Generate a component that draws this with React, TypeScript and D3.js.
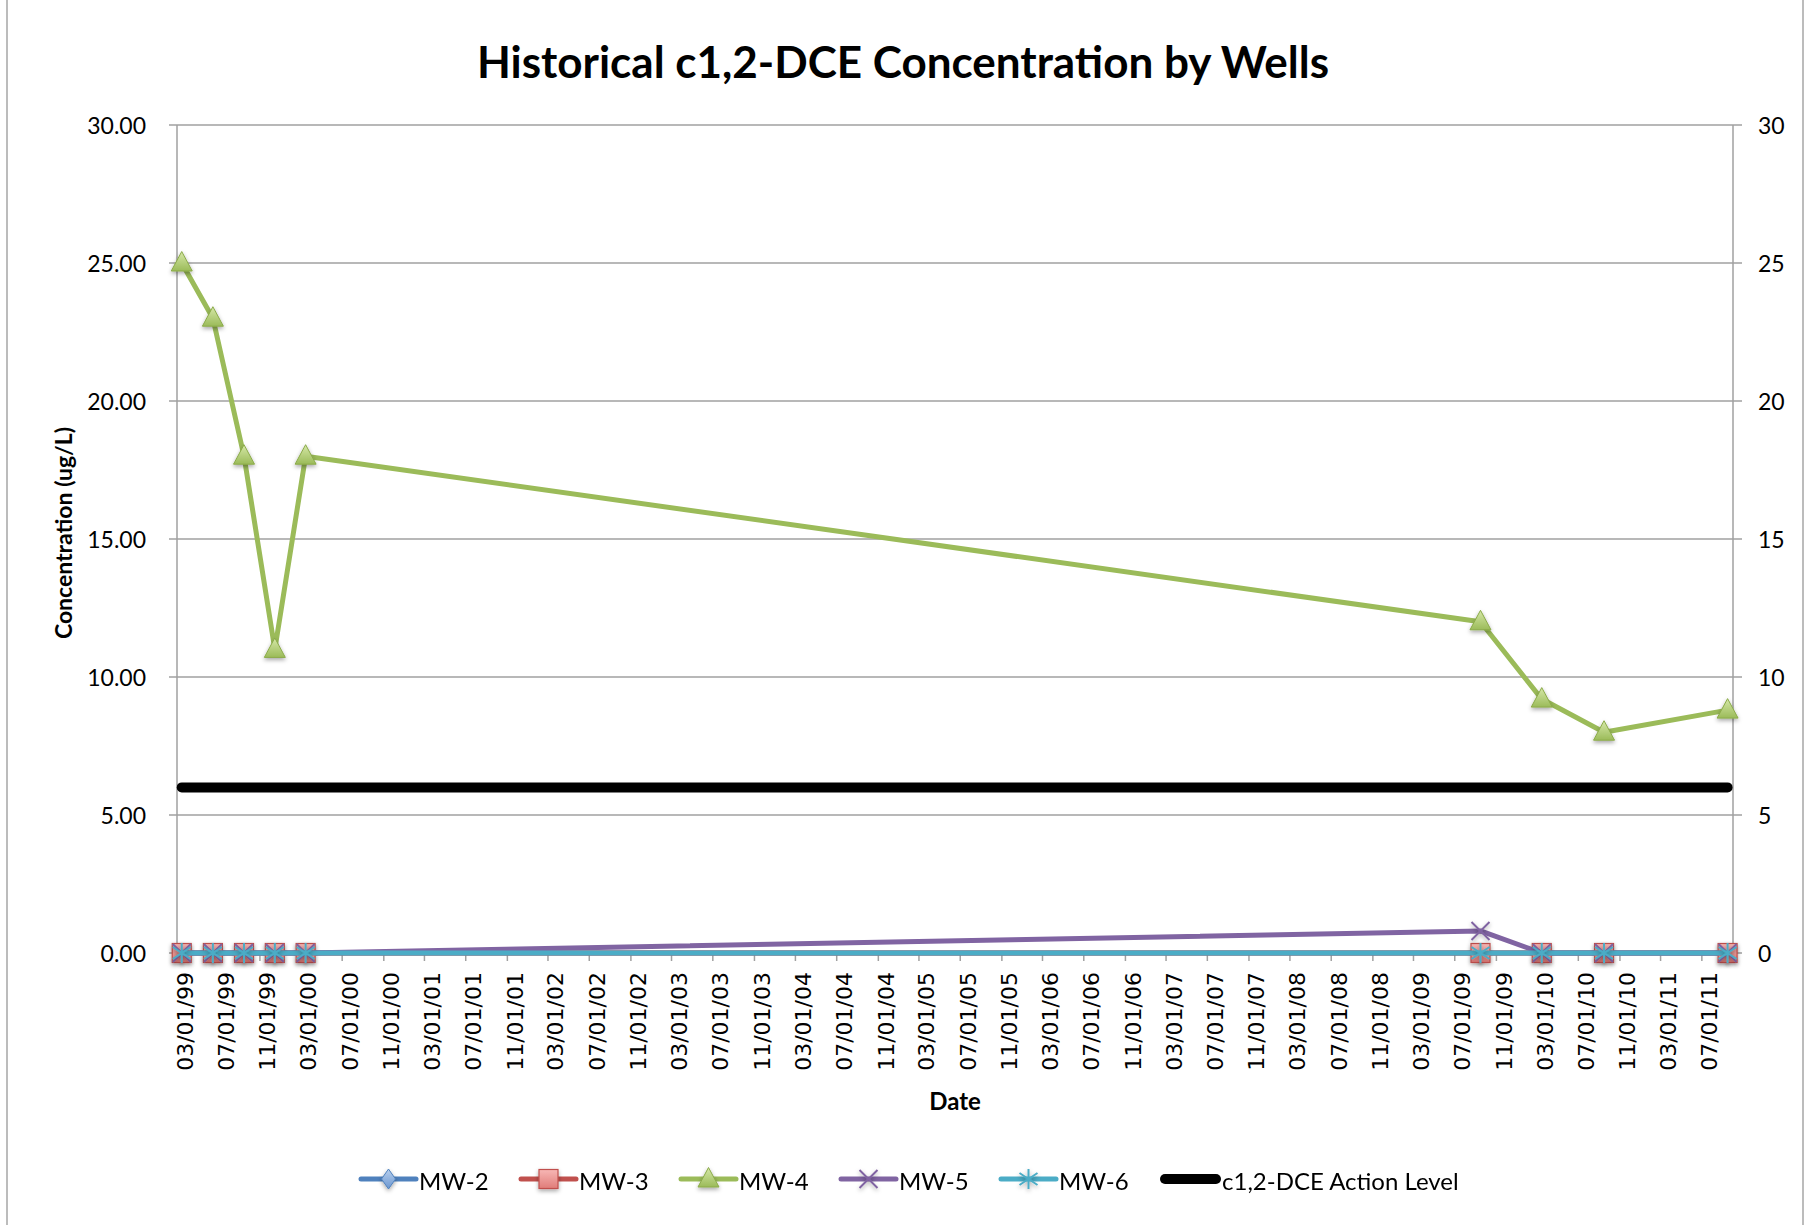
import React, { useEffect, useRef } from 'react';
import * as d3 from 'd3';

// sampling dates and readings (ug/L)
const sampleDates = [
  '1999-03-15', '1999-06-15', '1999-09-15', '1999-12-15', '2000-03-15',
  '2009-09-15', '2010-03-15', '2010-09-15', '2011-09-15'
];
const mw2 = [0, 0, 0, 0, 0, 0, 0, 0, 0];
const mw3 = [0, 0, 0, 0, 0, 0, 0, 0, 0];
const mw4 = [25, 23, 18, 11, 18, 12, 9.2, 8.0, 8.8];
const mw5 = [0, 0, 0, 0, 0, 0.8, 0, 0, 0];
const mw6 = [0, 0, 0, 0, 0, 0, 0, 0, 0];
const actionLevel = [6, 6, 6, 6, 6, 6, 6, 6, 6];

const seriesNames = ['MW-2', 'MW-3', 'MW-4', 'MW-5', 'MW-6'];
const seriesColors = ['#4F81BD', '#C0504D', '#9BBB59', '#8064A2', '#4BACC6'];
const seriesMarkers = ['diamond', 'square', 'triangle', 'x', 'star'];
const actionName = 'c1,2-DCE Action Level';

const yTicks = [0, 5, 10, 15, 20, 25, 30];
const xTickLabels = [
  '03/01/99', '07/01/99', '11/01/99', '03/01/00', '07/01/00', '11/01/00',
  '03/01/01', '07/01/01', '11/01/01', '03/01/02', '07/01/02', '11/01/02',
  '03/01/03', '07/01/03', '11/01/03', '03/01/04', '07/01/04', '11/01/04',
  '03/01/05', '07/01/05', '11/01/05', '03/01/06', '07/01/06', '11/01/06',
  '03/01/07', '07/01/07', '11/01/07', '03/01/08', '07/01/08', '11/01/08',
  '03/01/09', '07/01/09', '11/01/09', '03/01/10', '07/01/10', '11/01/10',
  '03/01/11', '07/01/11'
];
const xDomain = ['1999-03-01', '2011-10-01'];

const W = 1806;
const H = 1225;

function drawMarker(g, type, color) {
  if (type === 'diamond') {
    g.append('path').attr('d', 'M0,-10L7,0L0,10L-7,0Z')
      .attr('fill', 'url(#gradBlue)').attr('stroke', color).attr('stroke-width', 1);
  } else if (type === 'square') {
    g.append('rect').attr('x', -9.5).attr('y', -9.5).attr('width', 19).attr('height', 19)
      .attr('fill', 'url(#gradRed)').attr('stroke', color).attr('stroke-width', 1.2);
  } else if (type === 'triangle') {
    g.append('path').attr('d', 'M0,-11.5L10.5,8L-10.5,8Z')
      .attr('fill', 'url(#gradGreen)').attr('stroke', '#8AAA48').attr('stroke-width', 1);
  } else if (type === 'x') {
    g.append('path').attr('d', 'M-9,-9L9,9M-9,9L9,-9')
      .attr('stroke', color).attr('stroke-width', 2).attr('fill', 'none');
  } else {
    g.append('path').attr('d', 'M0,-10L0,10M-9,-6L9,6M-9,6L9,-6')
      .attr('stroke', color).attr('stroke-width', 2).attr('fill', 'none');
  }
}

export default function App() {
  const svgRef = useRef(null);

  useEffect(() => {
    const svg = d3.select(svgRef.current);
    svg.selectAll('*').remove();

    const parseIso = d3.timeParse('%Y-%m-%d');
    const parseTick = d3.timeParse('%m/%d/%y');
    const dates = sampleDates.map(parseIso);

    const x = d3.scaleTime().domain(xDomain.map(parseIso)).range([177, 1733]);
    const y = d3.scaleLinear().domain([0, 30]).range([953, 125]);

    const defs = svg.append('defs');
    const grad = (id, c1, c2) => {
      const lg = defs.append('linearGradient').attr('id', id)
        .attr('x1', 0).attr('y1', 0).attr('x2', 0).attr('y2', 1);
      lg.append('stop').attr('offset', '0%').attr('stop-color', c1);
      lg.append('stop').attr('offset', '100%').attr('stop-color', c2);
    };
    grad('gradBlue', '#B9D0EE', '#6A96D0');
    grad('gradRed', '#F7B7B5', '#E07C79');
    grad('gradGreen', '#D6E8A8', '#9BBB59');
    const f = defs.append('filter').attr('id', 'shadow')
      .attr('x', '-50%').attr('y', '-50%').attr('width', '200%').attr('height', '200%');
    f.append('feDropShadow').attr('dx', 0).attr('dy', 2).attr('stdDeviation', 2)
      .attr('flood-color', '#000').attr('flood-opacity', 0.35);

    // chart frame (left and right edges only are visible)
    svg.append('line').attr('x1', 7).attr('x2', 7).attr('y1', 0).attr('y2', H)
      .attr('stroke', '#A6A6A6').attr('stroke-width', 1.5);
    svg.append('line').attr('x1', 1803).attr('x2', 1803).attr('y1', 0).attr('y2', H)
      .attr('stroke', '#A6A6A6').attr('stroke-width', 1.5);

    // gridlines
    svg.append('g').selectAll('line').data(yTicks).join('line')
      .attr('x1', 169).attr('x2', 1742)
      .attr('y1', d => y(d)).attr('y2', d => y(d))
      .attr('stroke', '#A0A0A0').attr('stroke-width', 1.5);

    // axes lines
    svg.append('line').attr('x1', 177).attr('x2', 177).attr('y1', y(30)).attr('y2', y(0) + 8)
      .attr('stroke', '#A0A0A0').attr('stroke-width', 1.5);
    svg.append('line').attr('x1', 1733).attr('x2', 1733).attr('y1', y(30)).attr('y2', y(0))
      .attr('stroke', '#A0A0A0').attr('stroke-width', 1.5);

    const tickDates = xTickLabels.map(parseTick);
    svg.append('g').selectAll('line').data(tickDates).join('line')
      .attr('x1', d => x(d)).attr('x2', d => x(d))
      .attr('y1', y(0)).attr('y2', y(0) + 8)
      .attr('stroke', '#A0A0A0').attr('stroke-width', 1.5);

    svg.append('g').selectAll('text').data(xTickLabels).join('text')
      .attr('transform', (d, i) => `translate(${x(tickDates[i]) + 8},${y(0) + 19}) rotate(-90)`)
      .attr('text-anchor', 'end')
      .attr('dominant-baseline', 'central')
      .attr('font-family', '"DejaVu Sans", sans-serif')
      .attr('font-size', 22)
      .attr('fill', '#000')
      .text(d => d);

    svg.append('g').selectAll('text').data(yTicks).join('text')
      .attr('x', 146).attr('y', d => y(d))
      .attr('text-anchor', 'end').attr('dominant-baseline', 'central')
      .attr('font-family', 'Lato, sans-serif').attr('font-size', 23)
      .text(d => d3.format('.2f')(d));

    svg.append('g').selectAll('text').data(yTicks).join('text')
      .attr('x', 1758).attr('y', d => y(d))
      .attr('text-anchor', 'start').attr('dominant-baseline', 'central')
      .attr('font-family', 'Lato, sans-serif').attr('font-size', 23)
      .text(d => d3.format('d')(d));

    // titles
    svg.append('text').attr('x', W / 2).attr('y', 78)
      .attr('text-anchor', 'middle').attr('font-family', 'Lato, sans-serif')
      .attr('font-weight', 'bold').attr('font-size', 44)
      .text('Historical c1,2-DCE Concentration by Wells');
    svg.append('text').attr('transform', 'translate(72,533) rotate(-90)')
      .attr('text-anchor', 'middle').attr('font-family', 'Lato, sans-serif')
      .attr('font-weight', 'bold').attr('font-size', 23)
      .text('Concentration (ug/L)');
    svg.append('text').attr('x', 955).attr('y', 1110)
      .attr('text-anchor', 'middle').attr('font-family', 'Lato, sans-serif')
      .attr('font-weight', 'bold').attr('font-size', 24)
      .text('Date');

    // series
    const allSeries = [mw2, mw3, mw4, mw5, mw6];
    const line = d3.line().x(d => x(d[0])).y(d => y(d[1]));

    allSeries.forEach((vals, si) => {
      const pts = vals.map((v, i) => [dates[i], v]);
      svg.append('path').datum(pts)
        .attr('d', line)
        .attr('fill', 'none')
        .attr('stroke', seriesColors[si])
        .attr('stroke-width', 5)
        .attr('stroke-linejoin', 'round');
      const mg = svg.append('g').attr('filter', 'url(#shadow)');
      pts.forEach(p => {
        const g = mg.append('g').attr('transform', `translate(${x(p[0])},${y(p[1])})`);
        drawMarker(g, seriesMarkers[si], seriesColors[si]);
      });
    });

    const actionPts = actionLevel.map((v, i) => [dates[i], v]);
    svg.append('path').datum(actionPts)
      .attr('d', line)
      .attr('fill', 'none')
      .attr('stroke', '#000')
      .attr('stroke-width', 10)
      .attr('stroke-linecap', 'round');

    // legend
    const legendY = 1179;
    const legendX = d3.scaleLinear().domain([0, 5]).range([361, 1161]);
    seriesNames.forEach((name, i) => {
      const lx = legendX(i);
      svg.append('line').attr('x1', lx).attr('x2', lx + 55)
        .attr('y1', legendY).attr('y2', legendY)
        .attr('stroke', seriesColors[i]).attr('stroke-width', 5).attr('stroke-linecap', 'round');
      const g = svg.append('g').attr('transform', `translate(${lx + 27.5},${legendY})`)
        .attr('filter', 'url(#shadow)');
      drawMarker(g, seriesMarkers[i], seriesColors[i]);
      svg.append('text').attr('x', lx + 58).attr('y', legendY + 11)
        .attr('font-family', 'Lato, sans-serif').attr('font-size', 24)
        .text(name);
    });
    const ax = legendX(5);
    svg.append('line').attr('x1', ax + 4).attr('x2', ax + 55)
      .attr('y1', legendY).attr('y2', legendY)
      .attr('stroke', '#000').attr('stroke-width', 10).attr('stroke-linecap', 'round');
    svg.append('text').attr('x', ax + 61).attr('y', legendY + 11)
      .attr('font-family', 'Lato, sans-serif').attr('font-size', 24)
      .text(actionName);
  }, []);

  return (
    <div style={{ position: 'absolute', left: 0, top: 0 }}>
      <svg ref={svgRef} width={W} height={H} style={{ display: 'block' }} />
    </div>
  );
}
